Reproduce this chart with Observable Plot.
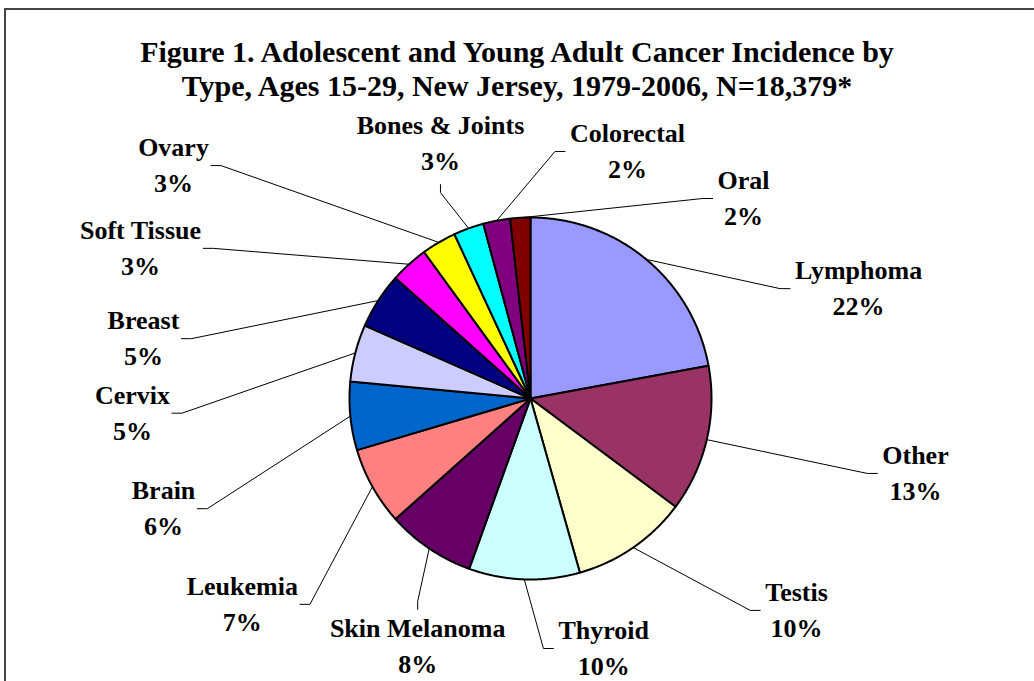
<!DOCTYPE html>
<html><head><meta charset="utf-8">
<script src="https://cdn.jsdelivr.net/npm/d3@7"></script>
<script src="https://cdn.jsdelivr.net/npm/@observablehq/plot@0.6"></script>
<style>
body{margin:0;background:#fff;}
#wrap{position:relative;width:1034px;height:681px;overflow:hidden;background:#fff;font-family:"Liberation Serif","Times New Roman",serif;}
#frame{position:absolute;left:4px;top:8px;width:1100px;height:800px;border-top:2px solid #444;border-left:2px solid #444;pointer-events:none;}
#title{position:absolute;left:0;top:0;width:1034px;height:112px;text-align:center;font-weight:bold;font-size:30px;line-height:34px;padding-top:35px;box-sizing:border-box;color:#000;}
#chart{position:absolute;left:0;top:112px;}
</style></head><body>
<div id="wrap">
<div id="title">Figure 1. Adolescent and Young Adult Cancer Incidence by<br>Type, Ages 15-29, New Jersey, 1979-2006, N=18,379*</div>
<div id="chart"></div>
<div id="frame"></div>
</div>
<script>
// ---- data ----
const categories = ["Lymphoma","Other","Testis","Thyroid","Skin Melanoma","Leukemia","Brain","Cervix","Breast","Soft Tissue","Ovary","Bones & Joints","Colorectal","Oral"];
const percents   = [22.1, 13.1, 10.4, 9.9, 7.9, 7.0, 6.1, 5.1, 5.0, 3.4, 3.1, 2.7, 2.4, 1.8];
const colors     = ["#9999FF","#993366","#FFFFCC","#CCFFFF","#660066","#FF8080","#0066CC","#CCCCFF","#000080","#FF00FF","#FFFF00","#00FFFF","#800080","#800000"];
// ---- label layout (polar: degrees clockwise from 12 o'clock, distance in pie radii) ----
const labelAngle  = [71.8, 101.3, 128.8, 163.8, 204.3, 234.2, 253.0, 267.6, 278.5, 290.8, 302.9, 340.4, 21.6, 47.1];
const labelRadius = [1.908, 2.169, 1.886, 1.450, 1.515, 1.963, 2.120, 2.201, 2.162, 2.305, 2.349, 1.483, 1.456, 1.607];

const W = 1034, H = 569, R = 181, CX = 530, CY = 286;
const FONT_SIZE = 26, LINE_H = 36;

const total = d3.sum(percents);
const arcs = d3.pie().sort(null).value(d => d)(percents);

// slice polygons
const slicePts = [];
arcs.forEach((a, i) => {
  const name = categories[i];
  slicePts.push({name, x: 0, y: 0});
  const n = Math.max(2, Math.ceil((a.endAngle - a.startAngle) / (Math.PI / 360)));
  for (let j = 0; j <= n; j++) {
    const t = a.startAngle + (a.endAngle - a.startAngle) * j / n;
    slicePts.push({name, x: Math.sin(t), y: Math.cos(t)});
  }
  slicePts.push({name, x: 0, y: 0});
});

// label measurement
const ctx = document.createElement("canvas").getContext("2d");
ctx.font = `bold ${FONT_SIZE}px "Liberation Serif"`;

const labels = categories.map((name, i) => {
  const ang = labelAngle[i] * Math.PI / 180;
  const pct = Math.round(percents[i] / total * 100) + "%";
  return {name, pct, x: labelRadius[i] * Math.sin(ang), y: labelRadius[i] * Math.cos(ang),
          w: Math.max(ctx.measureText(name).width, ctx.measureText(pct).width)};
});

// leader lines
const leaderPts = [];
arcs.forEach((a, i) => {
  const name = categories[i];
  const m = (a.startAngle + a.endAngle) / 2;
  const px = Math.sin(m), py = Math.cos(m);
  const L = labels[i];
  const hw = L.w / 2 / R;
  let pts;
  if (px >= L.x - hw && px <= L.x + hw) {
    const sgn = L.y > py ? -1 : 1;
    const ey = L.y + sgn * 39 / R;
    pts = [[px, py], [L.x, ey + sgn * 8 / R], [L.x, ey]];
  } else if (px < L.x - hw) {
    const ex = L.x - hw - 5 / R, ey = L.y + 2 / R;
    pts = [[px, py], [ex - 10 / R, ey], [ex, ey]];
  } else {
    const ex = L.x + hw + 2 / R, ey = L.y + 2 / R;
    pts = [[px, py], [ex + 10 / R, ey], [ex, ey]];
  }
  pts.forEach(([x, y]) => leaderPts.push({name, x, y}));
});

const chart = Plot.plot({
  width: W, height: H, margin: 0,
  x: {domain: [-CX / R, (W - CX) / R], range: [0, W], axis: null},
  y: {domain: [-(H - CY) / R, CY / R], range: [H, 0], axis: null},
  color: {domain: categories, range: colors},
  style: {fontFamily: '"Liberation Serif","Times New Roman",serif', background: "transparent", overflow: "visible"},
  marks: [
    Plot.line(leaderPts, {x: "x", y: "y", z: "name", stroke: "black", strokeWidth: 1, curve: "linear"}),
    Plot.line(slicePts, {x: "x", y: "y", z: "name", fill: "name", stroke: "black", strokeWidth: 2, strokeLinejoin: "round", curve: "linear"}),
    Plot.text(labels, {x: "x", y: "y", text: d => d.name + "\n" + d.pct, fontSize: FONT_SIZE, fontWeight: "bold",
      lineHeight: LINE_H / FONT_SIZE, textAnchor: "middle", lineAnchor: "middle", fill: "black", dy: -5})
  ]
});
document.getElementById("chart").appendChild(chart);
</script>
</body></html>
